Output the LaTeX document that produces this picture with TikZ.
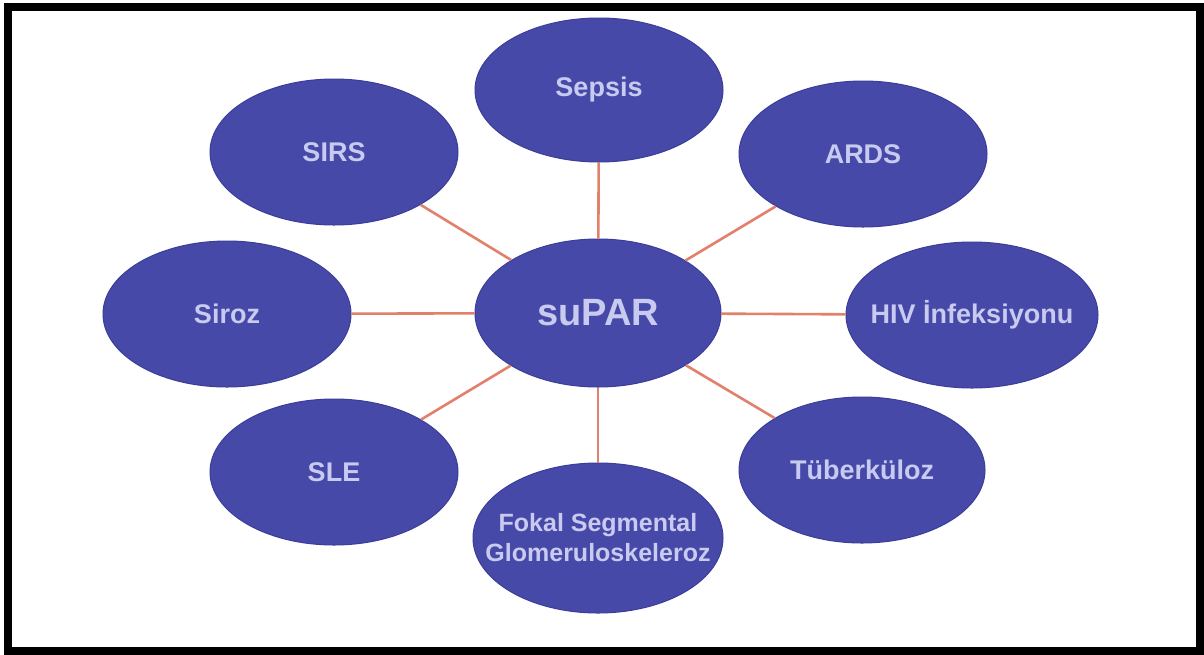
\documentclass[tikz,border=0pt]{standalone}
\usepackage{fontspec}
\setmainfont{Liberation Sans}
\usetikzlibrary{shapes.geometric}
\definecolor{ellfill}{HTML}{4649A8}
\definecolor{elledge}{HTML}{3B3D98}
\definecolor{elltext}{HTML}{C8CBEF}
\definecolor{linkcol}{HTML}{E3806C}
\tikzset{
  bubble/.style={ellipse, fill=ellfill, draw=elledge, line width=1pt, inner sep=0pt},
  bubbletext/.style={text=elltext, font=\bfseries\fontsize{27}{30}\selectfont, align=center, inner sep=0pt},
  link/.style={draw=linkcol, line width=2.6pt}
}
\begin{document}
\begin{tikzpicture}[x=1pt,y=-1pt]
\useasboundingbox (0,0) rectangle (1204,654);
\fill[white] (0,0) rectangle (1204,654);
\draw[black, line width=8pt] (8,7) rectangle (1200,651);

\node[bubble, minimum width=248pt, minimum height=144pt] (sepsis) at (599,90) {};
\node[bubble, minimum width=248pt, minimum height=146pt] (sirs) at (334,152) {};
\node[bubble, minimum width=248pt, minimum height=146pt] (ards) at (863,154) {};
\node[bubble, minimum width=248pt, minimum height=146pt] (siroz) at (227,314) {};
\node[bubble, minimum width=246pt, minimum height=148pt] (supar) at (598,313) {};
\node[bubble, minimum width=252pt, minimum height=146pt] (hiv) at (972,315) {};
\node[bubble, minimum width=248pt, minimum height=146pt] (sle) at (334,472) {};
\node[bubble, minimum width=246pt, minimum height=146pt] (tb) at (862,470) {};
\node[bubble, minimum width=250pt, minimum height=150pt] (fsg) at (598,538) {};

\node[bubbletext] (sepsist) at (sepsis.center) {Sepsis};
\node[bubbletext] (sirst) at (sirs.center) {SIRS};
\node[bubbletext] (ardst) at (ards.center) {ARDS};
\node[bubbletext] (sirozt) at (siroz.center) {Siroz};
\node[bubbletext, font=\bfseries\fontsize{38}{40}\selectfont] (supart) at (supar.center) {suPAR};
\node[bubbletext] (hivt) at (hiv.center) {HIV İnfeksiyonu};
\node[bubbletext] (slet) at (sle.center) {SLE};
\node[bubbletext] (tbt) at (tb.center) {Tüberküloz};
\node[bubbletext, font=\bfseries\fontsize{25}{30}\selectfont] (fsgt) at (fsg.center) {Fokal Segmental\\Glomeruloskeleroz};

\foreach \n in {sepsis,sirs,ards,siroz,hiv,sle,tb,fsg}
  \draw[link] (supar) -- (\n);
\end{tikzpicture}
\end{document}
